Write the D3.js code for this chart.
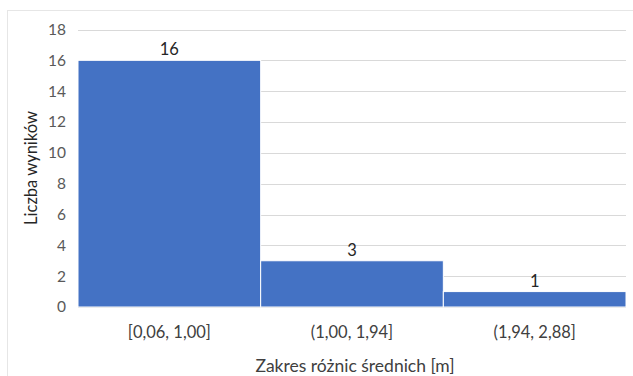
<!DOCTYPE html>
<html>
<head>
<meta charset="utf-8">
<script src="https://cdn.jsdelivr.net/npm/d3@7"></script>
<style>
  html, body { margin: 0; padding: 0; background: #fff; }
  svg { display: block; }
  text { font-family: Lato, "Open Sans", sans-serif; }
</style>
</head>
<body>
<svg id="chart" width="633" height="376"></svg>
<script>
// Histogram of mean differences
const categories = ["[0,06, 1,00]", "(1,00, 1,94]", "(1,94, 2,88]"];
const counts = [16, 3, 1];
const yTicks = [0, 2, 4, 6, 8, 10, 12, 14, 16, 18];
const xTitle = "Zakres różnic średnich [m]";
const yTitle = "Liczba wyników";

const svg = d3.select("#chart");
const W = 633, H = 376;
const plot = { left: 78, right: 626, top: 29.5, bottom: 307 };

// outer chart frame
svg.append("rect")
  .attr("x", 7.5).attr("y", 10.5)
  .attr("width", W).attr("height", H)
  .attr("fill", "#fff").attr("stroke", "#e6e6e6").attr("stroke-width", 1);

const x = d3.scaleBand().domain(categories).range([plot.left, plot.right]).padding(0);
const y = d3.scaleLinear().domain([0, 18]).range([plot.bottom, plot.top]);

// horizontal gridlines
svg.append("g")
  .selectAll("line")
  .data(yTicks)
  .join("line")
  .attr("x1", plot.left).attr("x2", plot.right)
  .attr("y1", d => Math.round(y(d)) + 0.5).attr("y2", d => Math.round(y(d)) + 0.5)
  .attr("stroke", "#d9d9d9").attr("stroke-width", 1);

// y axis labels
const yAxis = d3.axisLeft(y).tickValues(yTicks).tickSize(0).tickPadding(0);
const gy = svg.append("g").attr("transform", `translate(${plot.left - 12},0)`).call(yAxis);
gy.select(".domain").remove();
gy.selectAll("text")
  .attr("font-size", 15.5).attr("fill", "#595959")
  .style("font-family", "Lato, 'Open Sans', sans-serif");

// bars
svg.append("g")
  .selectAll("rect")
  .data(categories)
  .join("rect")
  .attr("x", d => x(d))
  .attr("y", (d, i) => y(counts[i]))
  .attr("width", x.bandwidth())
  .attr("height", (d, i) => y(0) - y(counts[i]))
  .attr("fill", "#4472C4")
  .attr("stroke", "#ffffff").attr("stroke-width", 1);

// value labels
svg.append("g")
  .selectAll("text")
  .data(categories)
  .join("text")
  .attr("x", d => x(d) + x.bandwidth() / 2)
  .attr("y", (d, i) => y(counts[i]) - 5)
  .attr("text-anchor", "middle")
  .attr("font-size", 16.5).attr("fill", "#262626")
  .text((d, i) => counts[i]);

// x axis labels
const xAxis = d3.axisBottom(x).tickSize(0).tickPadding(0);
const gx = svg.append("g").attr("transform", `translate(0,${plot.bottom + 19})`).call(xAxis);
gx.select(".domain").remove();
gx.selectAll("text")
  .attr("font-size", 16.5).attr("fill", "#404040")
  .style("font-family", "Lato, 'Open Sans', sans-serif");

// axis titles
svg.append("text")
  .attr("x", 355)
  .attr("y", 372)
  .attr("text-anchor", "middle")
  .attr("font-size", 17.5).attr("fill", "#404040")
  .text(xTitle);

svg.append("text")
  .attr("transform", `translate(37,168) rotate(-90)`)
  .attr("text-anchor", "middle")
  .attr("font-size", 16.5).attr("fill", "#262626")
  .text(yTitle);
</script>
</body>
</html>
